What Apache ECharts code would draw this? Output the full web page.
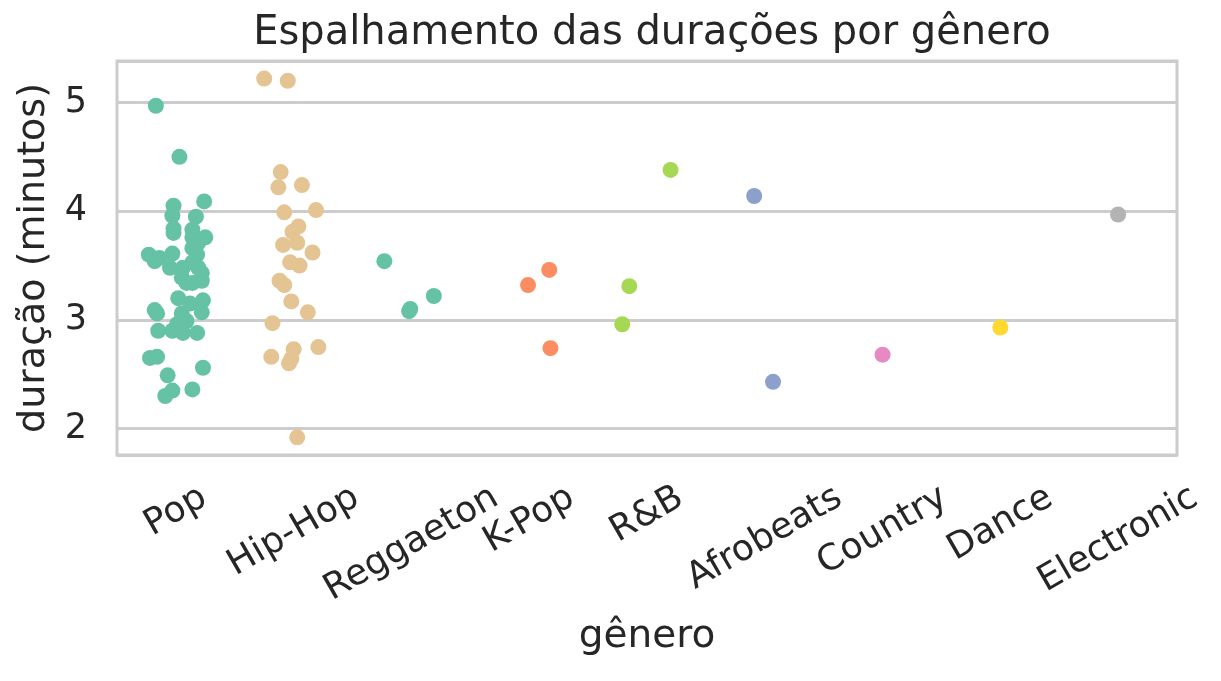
<!DOCTYPE html>
<html>
<head>
<meta charset="utf-8">
<script src="https://cdn.jsdelivr.net/npm/echarts@6/dist/echarts.min.js"></script>
<style>
  html, body { margin: 0; padding: 0; background: #fff; }
  #chart { width: 1221px; height: 681px; }
</style>
</head>
<body>
<div id="chart"></div>
<script>
// categorias e cores (Set2)
var genres = ['Pop', 'Hip-Hop', 'Reggaeton', 'K-Pop', 'R&B', 'Afrobeats', 'Country', 'Dance', 'Electronic'];
var colors = ['#66c2a5', '#e5c494', '#66c2a5', '#fc8d62', '#a6d854', '#8da0cb', '#e78ac3', '#ffd92f', '#b3b3b3'];
var yTicks = [2, 3, 4, 5];

// duração (minutos) e deslocamento horizontal (jitter)
var popDur = [4.97, 4.50, 4.09, 4.05, 3.96, 3.95, 3.84, 3.80, 3.83, 3.76, 3.76, 3.71, 3.66, 3.60, 3.57, 3.61,
  3.60, 3.53, 3.54, 3.48, 3.48, 3.48, 3.43, 3.39, 3.34, 3.36, 3.34, 3.20, 3.15, 3.18, 3.06, 3.06,
  3.07, 2.99, 2.96, 2.90, 2.90, 2.88, 2.88, 2.65, 2.66, 2.49, 2.56, 2.30, 2.35, 2.36, 3.09];
var popJit = [-0.17, 0.03, 0.24, -0.02, -0.03, 0.17, -0.02, -0.02, 0.14, 0.25, 0.14, 0.19, 0.14, -0.23, -0.14, -0.03,
  0.18, 0.14, -0.18, -0.05, 0.06, 0.19, 0.22, 0.05, 0.14, 0.22, 0.09, 0.02, 0.12, 0.23, -0.16, 0.05,
  0.22, 0.09, 0.01, -0.15, -0.03, 0.06, 0.18, -0.22, -0.16, -0.07, 0.23, -0.09, -0.03, 0.14, -0.18];

var hipDur = [5.22, 5.20, 4.36, 4.22, 4.24, 3.99, 4.01, 3.86, 3.81, 3.69, 3.71, 3.62, 3.53, 3.50, 3.36, 3.32,
  3.17, 3.07, 2.97, 2.73, 2.75, 2.66, 2.60, 2.64, 1.92];
var hipJit = [-0.25, -0.05, -0.11, -0.13, 0.07, -0.08, 0.19, 0.04, -0.01, -0.09, 0.03, 0.16, -0.03, 0.05, -0.12, -0.08,
  -0.02, 0.12, -0.18, 0.00, 0.21, -0.19, -0.04, -0.02, 0.03];

var regDur = [3.54, 3.10, 3.08, 3.22];
var regJit = [-0.23, -0.01, -0.02, 0.19];
var kpopDur = [3.32, 3.46, 2.74];
var kpopJit = [-0.01, 0.17, 0.18];
var rnbDur = [4.38, 3.31, 2.96];
var rnbJit = [0.20, -0.15, -0.21];
var afroDur = [4.14, 2.43];
var afroJit = [-0.09, 0.07];
var countryDur = [2.68];
var countryJit = [0.00];
var danceDur = [2.93];
var danceJit = [0.00];
var elecDur = [3.97];
var elecJit = [0.00];

var durs = [popDur, hipDur, regDur, kpopDur, rnbDur, afroDur, countryDur, danceDur, elecDur];
var jits = [popJit, hipJit, regJit, kpopJit, rnbJit, afroJit, countryJit, danceJit, elecJit];

var yMin = 1.757, yMax = 5.382;
var FONT = '"DejaVu Sans", sans-serif';
var TXT = '#262626';

var series = genres.map(function (g, i) {
  return {
    name: g,
    type: 'scatter',
    symbolSize: 16,
    itemStyle: { color: colors[i], opacity: 1 },
    data: durs[i].map(function (d, k) { return [i + jits[i][k], d]; })
  };
});

var chart = echarts.init(document.getElementById('chart'));
chart.setOption({
  animation: false,
  backgroundColor: '#ffffff',
  title: {
    text: 'Espalhamento das durações por gênero',
    left: 647, top: 9, textAlign: 'center',
    textStyle: { fontFamily: FONT, fontSize: 40, fontWeight: 'normal', color: TXT }
  },
  grid: {
    left: 117, right: 44, top: 61, bottom: 226,
    show: true, borderColor: '#cccccc', borderWidth: 3, backgroundColor: '#ffffff'
  },
  xAxis: {
    type: 'value', min: -0.5, max: 8.5,
    name: 'gênero', nameLocation: 'middle', nameGap: 162,
    nameTextStyle: { fontFamily: FONT, fontSize: 39, color: TXT },
    axisLine: { show: false }, axisTick: { show: false },
    axisLabel: { show: false }, splitLine: { show: false }
  },
  yAxis: {
    type: 'value', min: yMin, max: yMax, splitNumber: 4, minInterval: 1, maxInterval: 1,
    name: 'duração (minutos)', nameLocation: 'middle', nameGap: 64, nameRotate: 90,
    nameTextStyle: { fontFamily: FONT, fontSize: 38, color: TXT },
    axisLine: { show: false }, axisTick: { show: false },
    axisLabel: {
      fontFamily: FONT, fontSize: 35, color: TXT, margin: 30,
      showMinLabel: false, showMaxLabel: false,
      formatter: function (v) { return yTicks.indexOf(v) >= 0 ? String(v) : ''; }
    },
    splitLine: { show: true, lineStyle: { color: '#cccccc', width: 2.8 } }
  },
  series: series
});

// rótulos do eixo x rotacionados 30° e centralizados no tick (como no matplotlib)
var ctx = document.createElement('canvas').getContext('2d');
var fs = 36;
ctx.font = fs + 'px ' + FONT;
var s = Math.sin(Math.PI / 6), c = Math.cos(Math.PI / 6);
var h = fs * 1.17;
var labels = genres.map(function (g, i) {
  var p = chart.convertToPixel({ gridIndex: 0 }, [i, yMin]);
  var w = ctx.measureText(g).width;
  var ext = w * s + h * c;
  return {
    type: 'text',
    x: p[0], y: p[1] + 22 + ext / 2,
    rotation: Math.PI / 6,
    style: {
      text: g, x: 0, y: 0, textAlign: 'center', textVerticalAlign: 'middle',
      font: fs + 'px ' + FONT, fill: TXT
    }
  };
});
chart.setOption({ graphic: labels });
</script>
</body>
</html>
